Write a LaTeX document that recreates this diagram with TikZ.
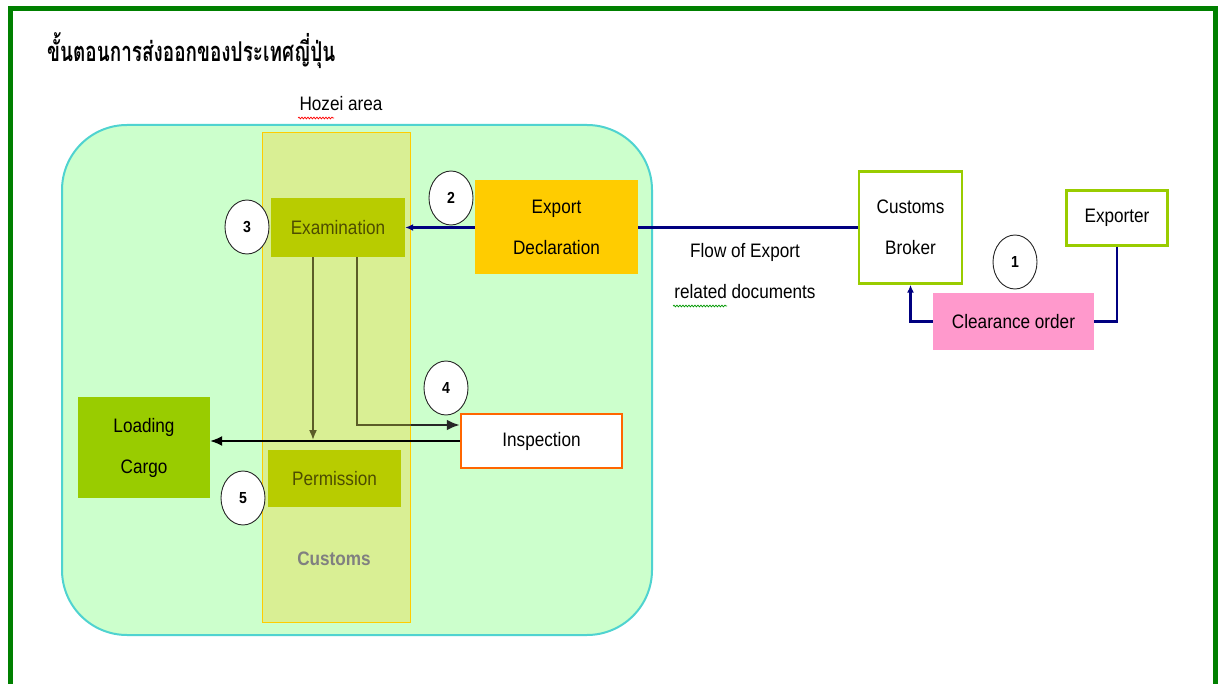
\documentclass[tikz,border=0pt]{standalone}
\usepackage{fontspec}
\setmainfont[FakeStretch=0.88]{Liberation Sans}
\newfontfamily\thaifont[Script=Thai]{Loma}
\usetikzlibrary{arrows.meta,decorations.pathmorphing,shapes.geometric}
\definecolor{framegreen}{HTML}{008000}
\definecolor{zonefill}{HTML}{CCFFCC}
\definecolor{zoneline}{HTML}{4FD3D0}
\definecolor{colfill}{HTML}{D9EF94}
\definecolor{colline}{HTML}{FFCC00}
\definecolor{olivebox}{HTML}{B8CC00}
\definecolor{olivetext}{HTML}{4D4D00}
\definecolor{loadfill}{HTML}{99CC00}
\definecolor{expfill}{HTML}{FFCC00}
\definecolor{pinkfill}{HTML}{FF99CC}
\definecolor{limeline}{HTML}{99CC00}
\definecolor{inspline}{HTML}{FF6600}
\definecolor{navy}{HTML}{000080}
\definecolor{oliveline}{HTML}{5C5C28}
\tikzset{
  box/.style={rectangle, inner sep=0pt, align=center, font=\fontsize{19.5}{41}\selectfont},
  numcirc/.style={ellipse, draw=black!85, line width=0.9pt, fill=white, inner sep=0pt,
    minimum width=44pt, minimum height=54pt, font=\bfseries\fontsize{16}{18}\selectfont},
  navyline/.style={draw=navy, line width=2.5pt},
  navyarrow/.style={navyline, -{Latex[length=8pt,width=7pt]}},
  oline/.style={draw=oliveline, line width=1.6pt},
  plaintext/.style={inner sep=0pt, align=center, font=\fontsize{19.5}{41}\selectfont},
  squig/.style={decorate, decoration={snake, amplitude=0.9pt, segment length=3pt}, line width=0.7pt}
}
\begin{document}
\begin{tikzpicture}[x=1pt,y=-1pt]
\useasboundingbox (0,0) rectangle (1218,684);
\fill[white] (0,0) rectangle (1218,684);
% outer frame
\draw[framegreen, line width=5pt] (10.5,690) -- (10.5,8.5) -- (1215.5,8.5) -- (1215.5,690);
% title
\node[anchor=north west, inner sep=0pt] (title) at (47,32) {\resizebox*{288pt}{36pt}{\thaifont\bfseries ขั้นตอนการส่งออกของประเทศญี่ปุ่น}};
% Hozei zone
\draw[zoneline, fill=zonefill, line width=2pt, rounded corners=65pt] (62,125) rectangle (652,635);
\node[plaintext] (hozei) at (341,104) {Hozei area};
\draw[squig, red] (298,118) -- (334,118);
% customs column
\node[rectangle, fill=colfill, draw=colline, line width=1pt, minimum width=148pt, minimum height=489pt, inner sep=0pt] (col) at (336,377.5) {};
\node[plaintext, font=\bfseries\fontsize{19.5}{22}\selectfont, text=black!50] (customs) at (334,559) {Customs};
% boxes
\node[box, fill=olivebox, text=olivetext, minimum width=134pt, minimum height=59pt] (exam) at (338,227.5) {Examination};
\node[box, fill=olivebox, text=olivetext, minimum width=133pt, minimum height=57pt] (perm) at (334.5,478.5) {Permission};
\node[box, fill=expfill, minimum width=163pt, minimum height=94pt] (exp) at (556.5,227.5) {Export\\Declaration};
\node[box, fill=loadfill, minimum width=132pt, minimum height=101pt] (load) at (144,447.5) {Loading\\Cargo};
\node[box, fill=white, draw=inspline, line width=2.5pt, minimum width=161pt, minimum height=54pt] (insp) at (541.5,441) {Inspection};
\node[box, fill=white, draw=limeline, line width=2.5pt, minimum width=103pt, minimum height=112pt] (broker) at (910.5,227.5) {Customs\\Broker};
\node[box, fill=white, draw=limeline, line width=2.5pt, minimum width=101pt, minimum height=55pt] (exporter) at (1117,218) {Exporter};
\node[box, fill=pinkfill, minimum width=161pt, minimum height=57pt] (clear) at (1013.5,321.5) {Clearance order};
% flow text
\node[plaintext] (flow) at (745,271.5) {Flow of Export\\related documents};
\draw[squig, green!60!black] (673,306) -- (727,306);
% connectors
\draw[navyline] (broker.west) -- (exp.east);
\draw[navyarrow] (exp.west) -- (exam.east);
\draw[navyline] (exporter.south) |- (clear.east);
\draw[navyarrow] (clear.west) -| (broker.south);
\coordinate (p1) at (313,440);
\draw[oline, -{Latex[length=10pt,width=8pt]}] (exam.south -| p1) -- (p1);
\coordinate (q1) at (357,425);
\draw[oline] (exam.south -| q1) -- (q1) -- (q1 -| col.east);
\draw[draw=black!85, line width=2.5pt, -{Latex[length=13pt,width=11pt]}] (q1 -| col.east) -- (q1 -| insp.west);
\draw[black, line width=1.5pt, -{Latex[length=12pt,width=10pt]}] (insp.west) -- (insp.west -| load.east);
% number circles
\node[numcirc] (c1) at (1015,262) {1};
\node[numcirc] (c2) at (451,198) {2};
\node[numcirc] (c3) at (247,227) {3};
\node[numcirc] (c4) at (446,388) {4};
\node[numcirc] (c5) at (243,498) {5};
\end{tikzpicture}
\end{document}
